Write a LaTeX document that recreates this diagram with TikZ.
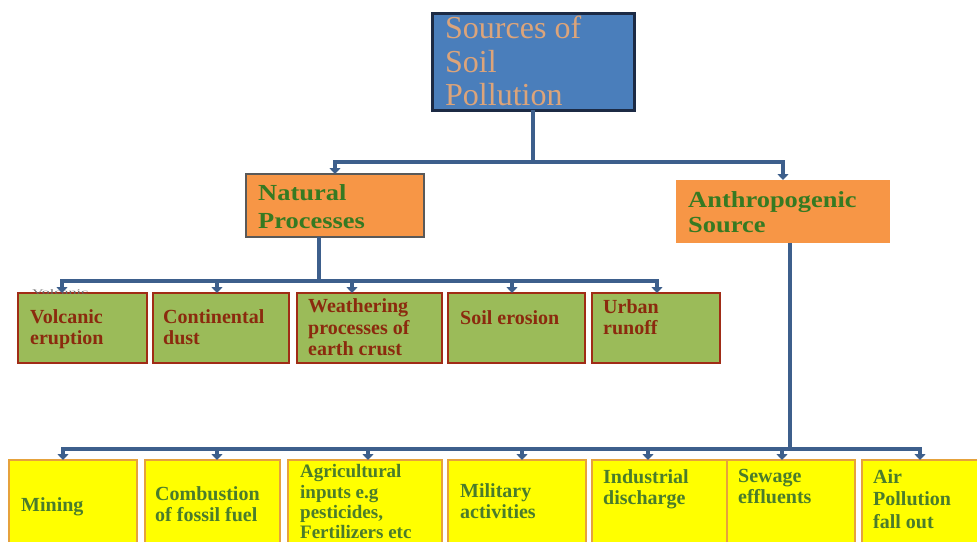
\documentclass[tikz,border=0pt]{standalone}
\usepackage{fontspec}
\usepackage{graphicx}
\setmainfont{Liberation Serif}
\newfontfamily\widefont[FakeStretch=1.15]{Liberation Serif}
\usetikzlibrary{arrows.meta}
\definecolor{tblue}{HTML}{4A7EBB}
\definecolor{tborder}{HTML}{1C2A44}
\definecolor{ttxt}{HTML}{DCA47A}
\definecolor{conncol}{HTML}{3D5F8C}
\definecolor{orng}{HTML}{F79646}
\definecolor{ogreen}{HTML}{367A22}
\definecolor{gfill}{HTML}{9BBB59}
\definecolor{gborder}{HTML}{A02C16}
\definecolor{gtxt}{HTML}{8B2A0E}
\definecolor{yfill}{HTML}{FFFF00}
\definecolor{yborder}{HTML}{E6A23C}
\definecolor{ytxt}{HTML}{4A7C2C}
\begin{document}
\begin{tikzpicture}[x=1pt,y=-1pt,
  box/.style={anchor=north west, inner sep=0pt, outer sep=0pt},
  titlebox/.style={box, draw=tborder, line width=3pt, fill=tblue},
  natbox/.style={box, draw=black!65, line width=2pt, fill=orng},
  antbox/.style={box, fill=orng},
  greenbox/.style={box, draw=gborder, line width=2.5pt, fill=gfill, minimum height=70pt},
  yellowbox/.style={box, draw=yborder, line width=2pt, fill=yfill, minimum height=110pt},
  txt/.style={anchor=north west, inner sep=0pt, align=left},
  gtext/.style={txt, text=gtxt, font=\bfseries\fontsize{20}{21}\selectfont},
  ytext/.style={txt, text=ytxt, font=\bfseries\fontsize{20}{21}\selectfont},
  conn/.style={draw=conncol, line width=4.5pt},
  arr/.style={-{Triangle[width=11pt,length=6pt]}}
]
\useasboundingbox (0,0) rectangle (977,541);
\clip (0,0) rectangle (977,541);

% top
\node[titlebox, minimum width=202pt, minimum height=97pt] (title) at (432,13) {};
\node[txt, text=ttxt, font=\fontsize{32}{33.5}\selectfont] (tt) at (445,16) {Sources of\\Soil\\Pollution};

% second level
\node[natbox, minimum width=178pt, minimum height=63pt] (nat) at (246,174) {};
\node[txt, text=ogreen, font=\widefont\bfseries\fontsize{23}{27.7}\selectfont] (natt) at (258,184.4) {Natural\\Processes};
\node[antbox, minimum width=214pt, minimum height=63pt] (ant) at (676,180) {};
\node[txt, text=ogreen, font=\widefont\bfseries\fontsize{23}{25}\selectfont] (antt) at (688,191) {Anthropogenic\\Source};

% green boxes
\node[greenbox, minimum width=129pt] (g1) at (18,293) {};
\node[greenbox, minimum width=136pt] (g2) at (153,293) {};
\node[greenbox, minimum width=145pt] (g3) at (297,293) {};
\node[greenbox, minimum width=137pt] (g4) at (448,293) {};
\node[greenbox, minimum width=128pt] (g5) at (592,293) {};
\node[txt, text=black!60, font=\fontsize{7}{7}\selectfont] (g1s) at (32,289) {\scalebox{2.3}[1]{Volcanic}};
\node[gtext] (g1t) at (30,309.4) {Volcanic\\eruption};
\node[gtext] (g2t) at (163,309.4) {Continental\\dust};
\node[gtext, font=\bfseries\fontsize{20}{21.5}\selectfont] (g3t) at (308,298.5) {Weathering\\processes of\\earth crust};
\node[gtext] (g4t) at (460,310.4) {Soil erosion};
\node[gtext] (g5t) at (603,299.4) {Urban\\runoff};

% yellow boxes
\node[yellowbox, minimum width=128pt] (y1) at (9,460) {};
\node[yellowbox, minimum width=135pt] (y2) at (145,460) {};
\node[yellowbox, minimum width=154pt] (y3) at (288,460) {};
\node[yellowbox, minimum width=138pt] (y4) at (448,460) {};
\node[yellowbox, minimum width=135pt] (y5) at (592,460) {};
\node[yellowbox, minimum width=128pt] (y6) at (727,460) {};
\node[yellowbox, minimum width=130pt] (y7) at (862,460) {};
\node[ytext] (y1t) at (21,497.4) {Mining};
\node[ytext] (y2t) at (155,486.4) {Combustion\\of fossil fuel};
\node[ytext, font=\bfseries\fontsize{19}{20.3}\selectfont] (y3t) at (300,464.5) {Agricultural\\inputs e.g\\pesticides,\\Fertilizers etc};
\node[ytext] (y4t) at (460,483.4) {Military\\activities};
\node[ytext] (y5t) at (603,469.4) {Industrial\\discharge};
\node[ytext] (y6t) at (738,469.4) {Sewage\\effluents};
\node[ytext, font=\bfseries\fontsize{20}{22.5}\selectfont] (y7t) at (873,469.4) {Air\\Pollution\\fall out};

% connectors
\coordinate (j1) at (533,162);
\draw[conn] (title.south) -- (j1);
\draw[conn,arr] (j1) -| (nat.north);
\draw[conn,arr] (j1) -| (ant.north);

\coordinate (j2) at (319,281);
\draw[conn] (nat.south -| j2) -- (j2);
\draw[conn,arr] (j2) -| ([xshift=44pt]g1.north west);
\draw[conn,arr] (j2) -| ([xshift=64pt]g2.north west);
\draw[conn,arr] (j2) -| ([xshift=55pt]g3.north west);
\draw[conn,arr] (j2) -| ([xshift=64pt]g4.north west);
\draw[conn,arr] (j2) -| ([xshift=65pt]g5.north west);

\coordinate (j3) at (790,449);
\draw[conn] (ant.south -| j3) -- (j3);
\draw[conn,arr] (j3) -| ([xshift=54pt]y1.north west);
\draw[conn,arr] (j3) -| ([xshift=72pt]y2.north west);
\draw[conn,arr] (j3) -| ([xshift=80pt]y3.north west);
\draw[conn,arr] (j3) -| ([xshift=74pt]y4.north west);
\draw[conn,arr] (j3) -| ([xshift=56pt]y5.north west);
\draw[conn,arr] (j3) -| ([xshift=55pt]y6.north west);
\draw[conn,arr] (j3) -| ([xshift=58pt]y7.north west);
\end{tikzpicture}
\end{document}
